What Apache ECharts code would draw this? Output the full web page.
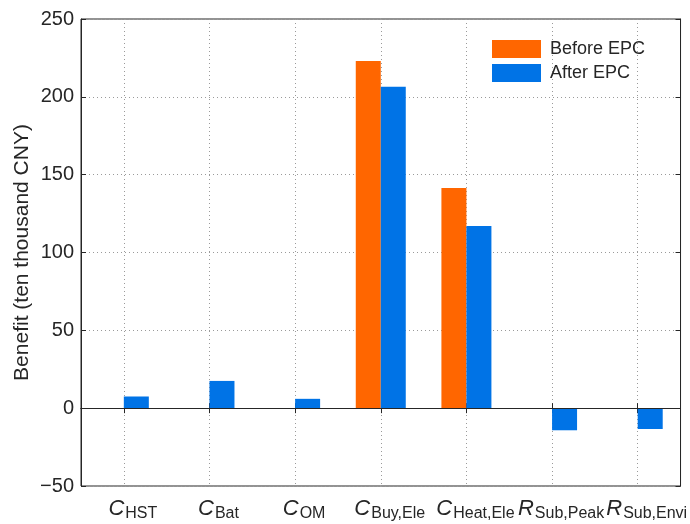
<!DOCTYPE html>
<html>
<head>
<meta charset="utf-8">
<script src="https://cdn.jsdelivr.net/npm/echarts@6/dist/echarts.min.js"></script>
<style>
  html, body { margin: 0; padding: 0; background: #fff; }
  #chart { width: 690px; height: 524px; }
</style>
</head>
<body>
<div id="chart"></div>
<script>
// Cost / revenue items: [main symbol, subscript]
const categories = [
  ['C', 'HST'],
  ['C', 'Bat'],
  ['C', 'OM'],
  ['C', 'Buy,Ele'],
  ['C', 'Heat,Ele'],
  ['R', 'Sub,Peak'],
  ['R', 'Sub,Envi']
];
const seriesNames = ['Before EPC', 'After EPC'];
const beforeEPC = [0, 0, 0, 223, 141.5, 0, 0];
const afterEPC = [7.5, 17.5, 6, 206.5, 117, -14.2, -13.4];
const yTicks = { min: -50, max: 250, interval: 50 };

const ink = '#262626';
const font = 'Liberation Sans, Arial, Helvetica, sans-serif';
const gridDots = { color: '#9a9a9a', width: 1, type: [1, 3] };

const catKeys = categories.map(c => c[0] + '|' + c[1]);

const chart = echarts.init(document.getElementById('chart'), null, { renderer: 'canvas' });

const option = {
  animation: false,
  backgroundColor: '#fff',
  textStyle: { fontFamily: font, color: ink },
  grid: {
    left: 81, right: 7, top: 19, bottom: 38,
    show: true, borderColor: ink, borderWidth: 1, backgroundColor: 'transparent'
  },
  legend: {
    orient: 'vertical',
    left: 487, top: 35,
    itemWidth: 49, itemHeight: 18, itemGap: 6,
    icon: 'rect',
    textStyle: { fontFamily: font, fontSize: 18, color: ink, padding: [0, 0, 0, 4] },
    data: seriesNames
  },
  xAxis: [
    {
      type: 'category',
      data: catKeys,
      boundaryGap: true,
      axisLine: { show: true, lineStyle: { color: ink } },
      axisTick: { show: true, inside: true, length: 5, alignWithLabel: true, lineStyle: { color: ink } },
      splitLine: { show: true, alignWithLabel: true, lineStyle: gridDots },
      axisLabel: {
        interval: 0,
        margin: 12,
        formatter: v => {
          const [m, s] = v.split('|');
          return '{m|' + m + '}{s|' + s + '}';
        },
        rich: {
          m: { fontFamily: font, fontSize: 22, fontStyle: 'italic', color: ink, lineHeight: 24, verticalAlign: 'top', padding: [0, 1, 0, 18] },
          s: { fontFamily: font, fontSize: 16, color: ink, lineHeight: 18, padding: [17, 0, 0, 0], verticalAlign: 'bottom' }
        }
      }
    },
    {
      type: 'category',
      position: 'top',
      data: catKeys,
      boundaryGap: true,
      axisLine: { show: true, lineStyle: { color: ink } },
      axisTick: { show: true, inside: true, length: 5, alignWithLabel: true, lineStyle: { color: ink } },
      axisLabel: { show: false },
      splitLine: { show: false }
    }
  ],
  yAxis: [
    {
      type: 'value',
      min: yTicks.min, max: yTicks.max, interval: yTicks.interval,
      name: 'Benefit (ten thousand CNY)',
      nameLocation: 'middle',
      nameGap: 48,
      nameMoveOverlap: false,
      nameTextStyle: { fontFamily: font, fontSize: 21, color: ink },
      axisLine: { show: true, lineStyle: { color: ink } },
      axisTick: { show: true, inside: true, length: 5, lineStyle: { color: ink } },
      axisLabel: {
        fontFamily: font, fontSize: 20, color: ink, margin: 7,
        formatter: v => String(v).replace('-', '\u2212')
      },
      splitLine: { show: true, lineStyle: gridDots }
    },
    {
      type: 'value',
      position: 'right',
      min: yTicks.min, max: yTicks.max, interval: yTicks.interval,
      axisLine: { show: true, lineStyle: { color: ink } },
      axisTick: { show: true, inside: true, length: 5, lineStyle: { color: ink } },
      axisLabel: { show: false },
      splitLine: { show: false }
    }
  ],
  series: [
    {
      name: seriesNames[0],
      type: 'bar',
      data: beforeEPC,
      barWidth: 25,
      barGap: '0%',
      itemStyle: { color: '#FF6600' },
      markLine: {
        silent: true,
        symbol: 'none',
        label: { show: false },
        lineStyle: { color: ink, type: 'solid', width: 1 },
        data: [{ yAxis: 0 }]
      }
    },
    {
      name: seriesNames[1],
      type: 'bar',
      data: afterEPC,
      barWidth: 25,
      barGap: '0%',
      itemStyle: { color: '#0073E6' }
    }
  ]
};

chart.setOption(option);
</script>
</body>
</html>
